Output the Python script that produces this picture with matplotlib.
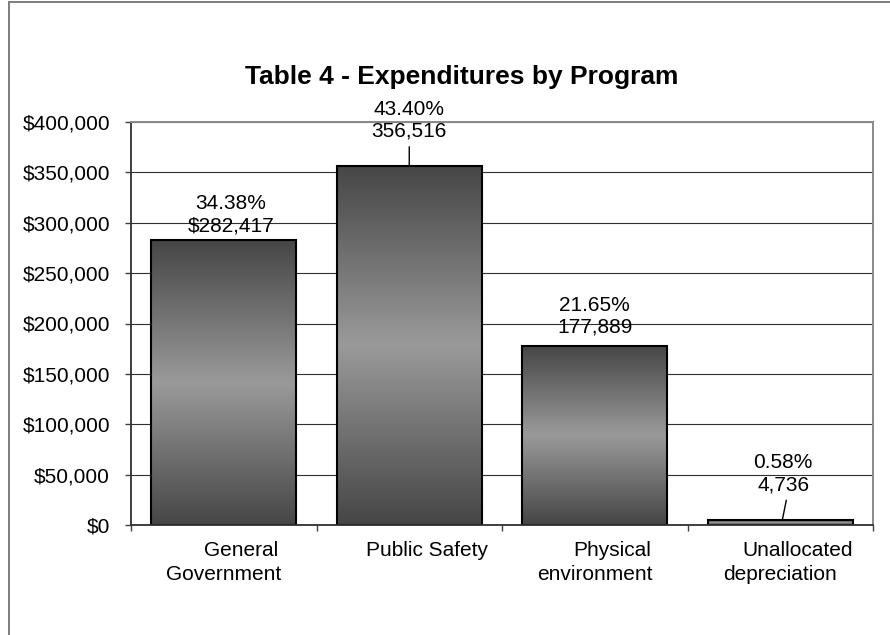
import numpy as np
import matplotlib
matplotlib.use("Agg")
import matplotlib.pyplot as plt
from matplotlib.colors import LinearSegmentedColormap
from matplotlib.patches import Rectangle

# ---- data ----
categories = ["General\nGovernment", "Public Safety", "Physical\nenvironment", "Unallocated\ndepreciation"]
values = [282417, 356516, 177889, 4736]
pct_labels = ["34.38%", "43.40%", "21.65%", "0.58%"]
value_labels = ["$282,417", "356,516", "177,889", "4,736"]
yticks = [0, 50000, 100000, 150000, 200000, 250000, 300000, 350000, 400000]
ytick_labels = ["$0", "$50,000", "$100,000", "$150,000", "$200,000", "$250,000",
                "$300,000", "$350,000", "$400,000"]
title = "Table 4 - Expenditures by Program"

# ---- layout / style ----
plt.rcParams['font.family'] = ['Liberation Sans', 'DejaVu Sans']
FS = 15
W, H = 890, 635
fig = plt.figure(figsize=(W / 100, H / 100), dpi=100)
ax = fig.add_axes([131 / W, 1 - 525 / H, (873 - 131) / W, (525 - 122) / H])

# outer frame (only left & top visible)
fig.patches.append(Rectangle((9 / W, -0.1), 1.2, 1.1 - 2.3 / H, transform=fig.transFigure,
                             fill=False, ec='#808080', lw=1.45))

x = np.arange(len(categories))
bars = ax.bar(x, values, width=0.78, facecolor='none', edgecolor='black', linewidth=1.5, zorder=4)

cmap = LinearSegmentedColormap.from_list('g', ['#464646', '#9a9a9a', '#464646'])
grad = np.linspace(0, 1, 256).reshape(-1, 1)
for b in bars:
    x0, w, h = b.get_x(), b.get_width(), b.get_height()
    im = ax.imshow(grad, extent=[x0, x0 + w, 0, h], aspect='auto', cmap=cmap,
                   origin='lower', zorder=3, interpolation='bilinear')
    im.set_clip_path(b)

ax.set_xlim(-0.5, len(categories) - 0.5)
ax.set_ylim(0, 400000)

# grid
ax.set_yticks(yticks)
ax.set_yticklabels(ytick_labels, fontsize=FS)
ax.yaxis.grid(True, color='#303030', lw=0.8, zorder=1)
ax.set_axisbelow(True)
ax.tick_params(axis='y', length=4.3, width=1, color='#404040', pad=10.8)

ax.set_xticks(np.arange(-0.5, len(categories), 1.0))
ax.set_xticklabels([])
ax.tick_params(axis='x', length=4.3, width=1, color='#404040')

for s in ['top', 'right']:
    ax.spines[s].set_color('#8a8a8a')
    ax.spines[s].set_linewidth(1.4)
for s in ['left', 'bottom']:
    ax.spines[s].set_color('#303030')
    ax.spines[s].set_linewidth(1.3)
ax.spines['bottom'].set_zorder(5)

# category labels (each line)
line_dx = [17.5, 0]
line_dy = [-31, -55]
for i, lab in enumerate(categories):
    for j, line in enumerate(lab.split("\n")):
        ax.annotate(line, xy=(i, 0), xycoords=('data', 'axes fraction'),
                    xytext=(line_dx[j], line_dy[j]), textcoords='offset pixels',
                    ha='center', va='baseline', fontsize=FS)

# data labels (baseline of the lower line above the bar top)
lab_dx = [7, 0, 0, 3]
lab_dy = [9, 29, 13, 30]
for i, (v, p, t) in enumerate(zip(values, pct_labels, value_labels)):
    ax.annotate(p + "\n" + t, xy=(i, v), xytext=(lab_dx[i], lab_dy[i]),
                textcoords='offset pixels', ha='center', va='baseline',
                fontsize=FS, zorder=6)

# leader lines
leaders = {1: (0, 19), 3: (4, 20)}
for i, (ddx, ddy) in leaders.items():
    ax.annotate('', xy=(i + 0.011 if i == 3 else i, values[i]), xytext=(ddx, ddy),
                textcoords='offset pixels',
                arrowprops=dict(arrowstyle='-', lw=1, color='black', shrinkA=0, shrinkB=0))

fig.text(462 / W, 1 - 84 / H, title, ha='center', va='baseline', fontsize=19, fontweight='bold')

fig.savefig("out.png", dpi=100)
